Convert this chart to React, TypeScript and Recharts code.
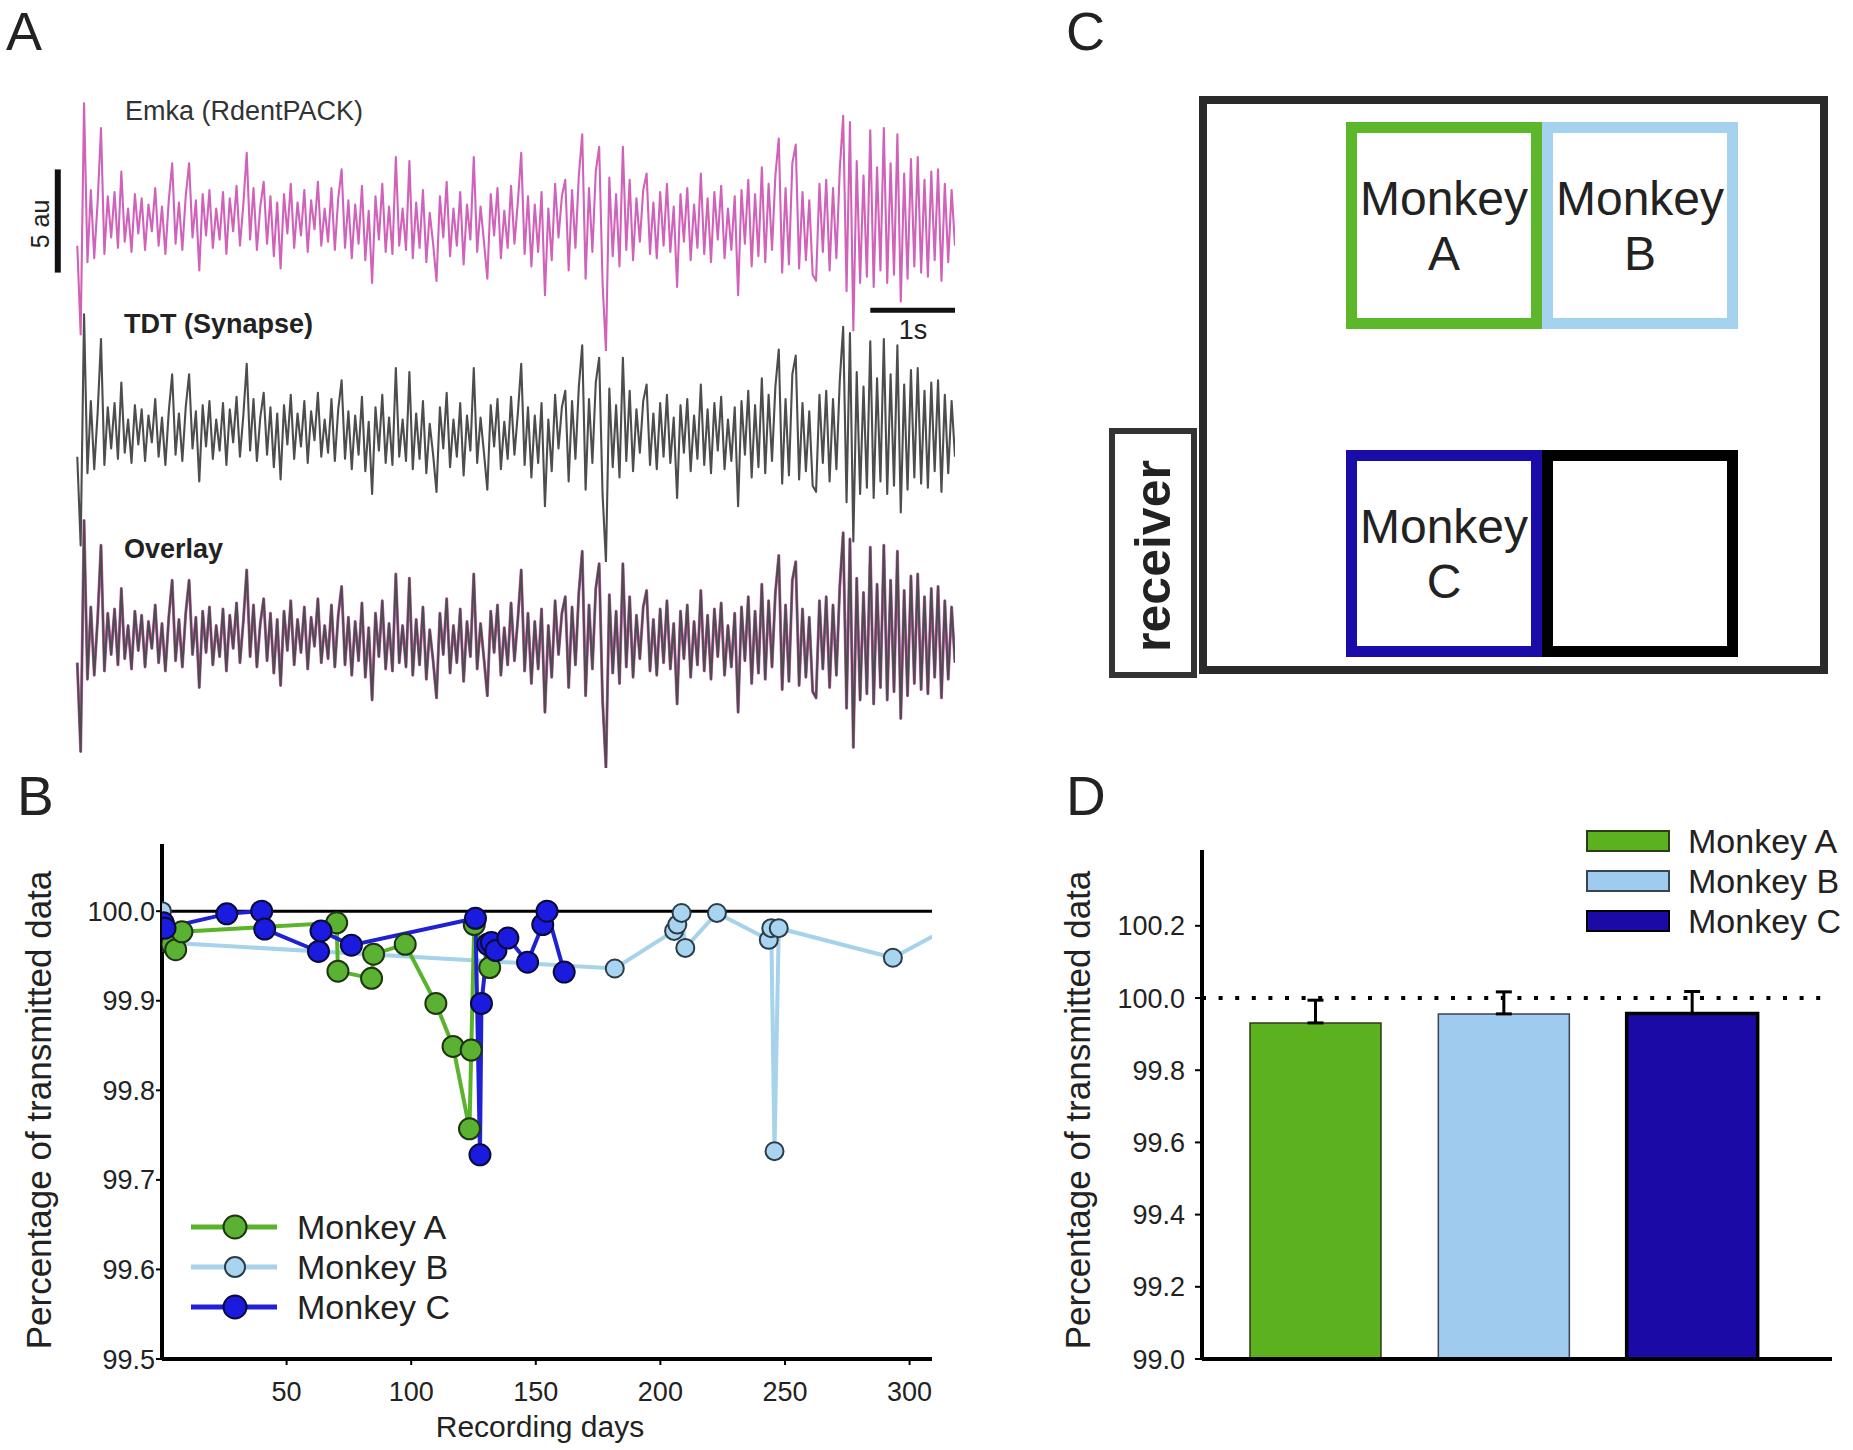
import React from 'react';
import {
  LineChart,
  Line,
  XAxis,
  YAxis,
  ReferenceLine,
  ReferenceArea,
  BarChart,
  Bar,
  Cell,
  ErrorBar,
  Legend,
} from 'recharts';

const FONT = '"Liberation Sans", Arial, Helvetica, sans-serif';
const INK = '#222';

// ---------------- Panel A: telemetry trace (arbitrary units) ----------------
const waveform = [
  -1.2, -5.5, 5.7, -2.0, 1.5, -1.8, 0.9, 4.5, -1.6, 1.2, -0.8, 1.4, -1.3, 2.4, -1.0, 0.6, -1.5, 1.3, -0.6, 1.1,
  -1.4, 0.8, -0.5, 1.6, -1.2, 0.7, -1.6, 1.0, 2.8, -1.1, 0.9, -1.4, 1.2, 2.8, -0.8, 1.0, -2.4, 1.3, -0.7, 1.5,
  -1.3, 0.6, -0.9, 1.4, -1.6, 1.1, -0.5, 1.7, -1.2, 0.8, 3.3, -0.9, 1.6, -1.4, 0.7, 1.9, -1.1, 1.2, -1.7, 0.9,
  -2.3, 1.3, -0.6, 1.8, -1.3, 0.9, -0.7, 1.5, -1.5, 1.0, -0.4, 1.9, -1.2, 0.6, -1.0, 1.6, -1.4, 1.1, 2.5, -1.3,
  1.0, -1.8, 0.8, -1.1, 1.7, -1.9, 0.5, -3.0, 1.2, -0.9, 1.8, -1.5, 0.7, -1.6, 3.1, -1.2, 0.6, -1.4, 2.9, -1.8,
  0.9, -1.3, 1.5, -2.0, 0.4, -1.1, -2.9, 1.2, -0.8, 1.9, -1.7, 0.6, -1.2, 1.4, -2.1, 0.8, -0.9, 3.1, -1.5, 0.7,
  -1.0, -2.8, 1.3, -0.7, 1.6, -1.8, 0.5, -1.3, 1.7, -1.1, 0.9, 3.3, -1.6, 1.2, -2.2, 0.8, -1.5, 1.4, -3.6, 0.6,
  -1.9, 1.8, -0.8, 1.2, 2.0, -2.4, 1.5, -1.3, 2.2, 4.2, -2.8, 1.6, -1.5, 2.4, 3.6, -3.0, -6.3, 2.1, -1.7, 1.3,
  -2.2, 3.6, -1.4, 2.0, -1.9, 1.1, -1.0, 1.5, 2.3, -1.6, 0.9, -1.8, 1.4, -1.2, 1.8, -1.5, 0.7, -3.2, 1.3, -1.0,
  1.6, -1.9, 0.8, -1.3, 2.3, -1.6, 1.1, -2.0, 1.4, -0.9, 1.7, -1.8, 0.6, -1.4, 1.2, -3.6, 1.5, -1.1, 2.0, -2.2,
  1.3, -1.7, 2.6, -2.0, 1.8, -1.4, 2.2, 4.0, -2.5, 1.6, -2.1, 2.8, 3.7, -2.3, 1.4, -1.9, 1.0, -2.6, -2.9, 1.8,
  -1.5, 2.0, -2.4, 1.6, -1.8, 2.5, 5.1, -3.4, 4.8, -5.3, 2.9, -3.0, 2.2, -2.7, 4.4, -3.2, 2.6, -2.4, 4.5, -3.0,
  2.8, -2.6, 4.2, -3.9, 2.3, -2.8, 3.0, -2.2, 3.1, -2.5, 2.0, -2.7, 2.4, -1.9, 2.5, -2.9, 1.8, -2.0, 1.5, -1.2,
];
const SAMPLE_SECONDS = 0.04;
const traceData = waveform.map((v, i) => ({ t: +(i * SAMPLE_SECONDS).toFixed(2), v }));
const TRACE_END = +((waveform.length - 1) * SAMPLE_SECONDS).toFixed(2);
const TRACE_DOMAIN_X: [number, number] = [-0.44, TRACE_END];
const TRACE_DOMAIN_Y: [number, number] = [-6.3, 6.3];
const SCALE_BAR_AU = 5;
const SCALE_BAR_SECONDS = 1;

// ---------------- Panel B: daily percentage of transmitted data ----------------
const monkeyNames = ['Monkey A', 'Monkey B', 'Monkey C'];
const monkeyADays = [4, 5.5, 8, 70.1, 70.6, 84.1, 84.9, 97.6, 109.9, 116.8, 123.4, 124.1, 125.3, 131.5];
const monkeyAPct = [99.963, 99.957, 99.977, 99.987, 99.933, 99.925, 99.952, 99.963, 99.897, 99.849, 99.757, 99.845, 99.985, 99.937];
const monkeyBDays = [0, 0.5, 1.5, 181.7, 205.5, 206.8, 208.5, 210, 222.7, 243.5, 244.5, 245.8, 247.5, 293.3, 322];
const monkeyBPct = [100.0, 99.97, 99.965, 99.936, 99.978, 99.985, 99.998, 99.959, 99.998, 99.968, 99.981, 99.732, 99.981, 99.948, 99.991];
const monkeyCDays = [0.5, 1.2, 26, 40, 41.2, 62.8, 63.8, 76, 125.8, 127.6, 128.2, 130.7, 132.2, 134, 138.8, 146.7, 152.8, 154.5, 161.4];
const monkeyCPct = [99.987, 99.981, 99.997, 100.0, 99.98, 99.955, 99.978, 99.962, 99.992, 99.728, 99.897, 99.963, 99.965, 99.956, 99.97, 99.943, 99.985, 100.0, 99.932];
const B_X_TICKS = [50, 100, 150, 200, 250, 300];
const B_Y_TICKS = [99.5, 99.6, 99.7, 99.8, 99.9, 100.0];

// ---------------- Panel D: mean percentage ----------------
const meanPct = [99.931, 99.956, 99.957];
const errPct = [0.063, 0.061, 0.061];
const D_Y_TICKS = [99.0, 99.2, 99.4, 99.6, 99.8, 100.0, 100.2];

// ---------------- styles ----------------
const B_LINE = ['#5ab42b', '#a6d3ea', '#2020d4'];
const B_DOT_FILL = ['#5bb232', '#a9d4ef', '#1b1be0'];
const B_DOT_STROKE = ['#1e3310', '#2b3b48', '#0b0b3a'];
const B_DOT_R = [10.5, 9, 10.5];
const D_FILL = ['#5cb21e', '#9fcbef', '#1c0aa6'];
const D_STROKE = ['#2a3d18', '#3a4450', '#000'];
const D_STROKE_W = [1.5, 1.5, 3.5];
const CAGE_COLORS = ['#5cb82a', '#a5d2ef', '#1a0ca8', '#000'];

const seriesB = [
  monkeyADays.map((d, i) => ({ day: d, pct: monkeyAPct[i] })),
  monkeyBDays.map((d, i) => ({ day: d, pct: monkeyBPct[i] })),
  monkeyCDays.map((d, i) => ({ day: d, pct: monkeyCPct[i] })),
];
const drawOrderB = [1, 0, 2];

const barData = monkeyNames.map((name, i) => ({ name, pct: meanPct[i], err: [0, errPct[i]] }));

type Layer = { stroke: string; width: number };

function TraceChart({ top, layers, scaleBars }: { top: number; layers: Layer[]; scaleBars?: boolean }) {
  return (
    <div style={{ position: 'absolute', left: 40, top, width: 915, height: 260 }}>
      <LineChart width={915} height={260} data={traceData} margin={{ top: 0, right: 0, bottom: 0, left: 0 }}>
        <XAxis dataKey="t" type="number" domain={TRACE_DOMAIN_X} hide />
        <YAxis type="number" domain={TRACE_DOMAIN_Y} hide />
        {layers.map((l, i) => (
          <Line
            key={i}
            type="linear"
            dataKey="v"
            stroke={l.stroke}
            strokeWidth={l.width}
            strokeLinejoin="round"
            dot={false}
            activeDot={false}
            isAnimationActive={false}
          />
        ))}
        {scaleBars && (
          <ReferenceLine
            segment={[
              { x: -0.23, y: -SCALE_BAR_AU / 2 },
              { x: -0.23, y: SCALE_BAR_AU / 2 },
            ]}
            stroke="#111"
            strokeWidth={6}
          />
        )}
        {scaleBars && (
          <ReferenceLine
            segment={[
              { x: TRACE_END - SCALE_BAR_SECONDS, y: -4.32 },
              { x: TRACE_END, y: -4.32 },
            ]}
            stroke="#111"
            strokeWidth={5}
          />
        )}
      </LineChart>
    </div>
  );
}

function BLegend() {
  return (
    <svg width={320} height={130} style={{ display: 'block', overflow: 'visible' }}>
      {monkeyNames.map((name, i) => {
        const cy = 22 + i * 40;
        return (
          <g key={name}>
            <line x1={6} x2={92} y1={cy} y2={cy} stroke={B_LINE[i]} strokeWidth={5} />
            <circle cx={50} cy={cy} r={B_DOT_R[i] + 1} fill={B_DOT_FILL[i]} stroke={B_DOT_STROKE[i]} strokeWidth={2} />
            <text x={112} y={cy + 12} fontSize={34} fill={INK} fontFamily={FONT}>
              {name}
            </text>
          </g>
        );
      })}
    </svg>
  );
}

function DLegend() {
  return (
    <svg width={262} height={130} style={{ display: 'block', overflow: 'visible' }}>
      {monkeyNames.map((name, i) => {
        const cy = 24 + i * 40;
        return (
          <g key={name}>
            <rect x={2} y={cy - 10} width={82} height={20} fill={D_FILL[i]} stroke={D_STROKE[i]} strokeWidth={2} />
            <text x={103} y={cy + 12} fontSize={34} fill={INK} fontFamily={FONT}>
              {name}
            </text>
          </g>
        );
      })}
    </svg>
  );
}

const tickStyle = { fill: INK, fontSize: 27, fontFamily: FONT };

function PanelB() {
  return (
    <div style={{ position: 'absolute', left: 0, top: 780 }}>
      <LineChart width={960} height={670} margin={{ top: 64, right: 28, bottom: 31, left: 0 }}>
        <XAxis
          type="number"
          dataKey="day"
          domain={[0, 309]}
          ticks={B_X_TICKS}
          interval={0}
          allowDataOverflow
          height={60}
          axisLine={{ stroke: '#000', strokeWidth: 4 }}
          tickLine={{ stroke: '#000', strokeWidth: 2 }}
          tickSize={6}
          tickMargin={17}
          tick={tickStyle}
        />
        <YAxis
          type="number"
          domain={[99.5, 100.075]}
          ticks={B_Y_TICKS}
          interval={0}
          allowDataOverflow
          width={162}
          axisLine={{ stroke: '#000', strokeWidth: 4 }}
          tickLine={{ stroke: '#000', strokeWidth: 2 }}
          tickSize={6}
          tickMargin={1}
          tick={tickStyle}
          tickFormatter={(v: number) => v.toFixed(1)}
        />
        <ReferenceLine y={100} stroke="#000" strokeWidth={3} />
        {drawOrderB.map((k) => (
          <Line
            key={monkeyNames[k]}
            name={monkeyNames[k]}
            data={seriesB[k]}
            dataKey="pct"
            type="linear"
            stroke={B_LINE[k]}
            strokeWidth={4}
            dot={{ r: B_DOT_R[k], fill: B_DOT_FILL[k], stroke: B_DOT_STROKE[k], strokeWidth: 2 }}
            activeDot={false}
            isAnimationActive={false}
          />
        ))}
        <Legend
          layout="vertical"
          align="center"
          verticalAlign="middle"
          content={() => <BLegend />}
          wrapperStyle={{ left: 185, top: 425, width: 320, height: 130 }}
        />
      </LineChart>
    </div>
  );
}

function PanelD() {
  return (
    <div style={{ position: 'absolute', left: 1040, top: 780 }}>
      <BarChart width={813} height={640} data={barData} margin={{ top: 70, right: 21, bottom: 31, left: 0 }}>
        <XAxis
          dataKey="name"
          height={30}
          tick={false}
          tickLine={false}
          axisLine={{ stroke: '#000', strokeWidth: 4 }}
          padding={{ left: 19, right: 46 }}
        />
        <YAxis
          type="number"
          domain={[99, 100.41]}
          ticks={D_Y_TICKS}
          interval={0}
          allowDataOverflow
          width={162}
          axisLine={{ stroke: '#000', strokeWidth: 4 }}
          tickLine={{ stroke: '#000', strokeWidth: 2 }}
          tickSize={7}
          tickMargin={10}
          tick={tickStyle}
          tickFormatter={(v: number) => v.toFixed(1)}
        />
        <ReferenceLine y={100} stroke="#000" strokeWidth={4} strokeDasharray="4 12.6" />
        <Bar dataKey="pct" barSize={131} isAnimationActive={false}>
          {barData.map((d, i) => (
            <Cell key={d.name} fill={D_FILL[i]} stroke={D_STROKE[i]} strokeWidth={D_STROKE_W[i]} />
          ))}
          <ErrorBar dataKey="err" direction="y" width={8} strokeWidth={3} stroke="#000" isAnimationActive={false} />
        </Bar>
        <Legend
          layout="vertical"
          align="center"
          verticalAlign="middle"
          content={() => <DLegend />}
          wrapperStyle={{ left: 545, top: 37, width: 262, height: 130 }}
        />
      </BarChart>
    </div>
  );
}

// cage layout in panel-local pixel units (panel origin at 1040,60)
const cageRooms = [
  { name: 'Monkey A', lines: ['Monkey', 'A'], x1: 311.5, x2: 496.5, y1: 67.5, y2: 263.5 },
  { name: 'Monkey B', lines: ['Monkey', 'B'], x1: 507.5, x2: 692.5, y1: 67.5, y2: 263.5 },
  { name: 'Monkey C', lines: ['Monkey', 'C'], x1: 311.5, x2: 496.5, y1: 395.5, y2: 591.5 },
  { name: 'empty', lines: [] as string[], x1: 507.5, x2: 692.5, y1: 395.5, y2: 591.5 },
];

function roomLabel(lines: string[]) {
  return (p: any) => {
    const vb = (p && p.viewBox) || p;
    const cx = vb.x + vb.width / 2;
    return (
      <g>
        {lines.map((s, i) => (
          <text key={i} x={cx} y={vb.y + 87.5 + i * 55} textAnchor="middle" fontSize={48} fill={INK} fontFamily={FONT}>
            {s}
          </text>
        ))}
      </g>
    );
  };
}

function receiverLabel(p: any) {
  const vb = (p && p.viewBox) || p;
  const cx = vb.x + vb.width / 2 + 17;
  const cy = vb.y + vb.height / 2 + 3;
  return (
    <text
      x={cx}
      y={cy}
      transform={`rotate(-90 ${cx} ${cy})`}
      textAnchor="middle"
      fontSize={50}
      fontWeight="bold"
      fill={INK}
      fontFamily={FONT}
    >
      receiver
    </text>
  );
}

function PanelC() {
  return (
    <div style={{ position: 'absolute', left: 1040, top: 60 }}>
      <LineChart width={813} height={660} data={cageRooms} margin={{ top: 0, right: 0, bottom: 0, left: 0 }}>
        <XAxis type="number" dataKey="x1" domain={[0, 813]} hide />
        <YAxis type="number" dataKey="y1" domain={[0, 660]} reversed hide />
        <Line dataKey="y1" stroke="none" dot={false} activeDot={false} isAnimationActive={false} />
        <ReferenceArea x1={163} x2={784} y1={40} y2={610} fill="none" stroke="#2a2a2a" strokeWidth={8} ifOverflow="visible" />
        <ReferenceArea
          x1={72}
          x2={154}
          y1={371}
          y2={615}
          fill="none"
          stroke="#333"
          strokeWidth={6}
          ifOverflow="visible"
          label={receiverLabel}
        />
        {cageRooms.map((r, i) => (
          <ReferenceArea
            key={r.name}
            x1={r.x1}
            x2={r.x2}
            y1={r.y1}
            y2={r.y2}
            fill="none"
            stroke={CAGE_COLORS[i]}
            strokeWidth={11}
            ifOverflow="visible"
            label={roomLabel(r.lines)}
          />
        ))}
      </LineChart>
    </div>
  );
}

export default function App() {
  return (
    <div
      style={{
        position: 'absolute',
        left: 0,
        top: 0,
        width: 1853,
        height: 1450,
        background: '#fff',
        overflow: 'hidden',
        fontFamily: FONT,
      }}
    >
      <TraceChart top={91} layers={[{ stroke: '#d062b9', width: 2.1 }]} scaleBars />
      <TraceChart top={302} layers={[{ stroke: '#4d4d4d', width: 2.1 }]} />
      <TraceChart
        top={508}
        layers={[
          { stroke: '#d062b9', width: 3 },
          { stroke: '#4d4d4d', width: 2 },
        ]}
      />
      <PanelB />
      <PanelC />
      <PanelD />
      <svg
        width={1853}
        height={1450}
        style={{ position: 'absolute', left: 0, top: 0, pointerEvents: 'none' }}
        fontFamily={FONT}
      >
        <text x={6} y={50} fontSize={54} fill={INK}>A</text>
        <text x={17} y={815} fontSize={55} fill={INK}>B</text>
        <text x={1066} y={50} fontSize={54} fill={INK}>C</text>
        <text x={1066} y={815} fontSize={55} fill={INK}>D</text>
        <text x={125} y={120} fontSize={27} fill="#333">Emka (RdentPACK)</text>
        <text x={124} y={333} fontSize={27} fontWeight="bold" fill={INK}>TDT (Synapse)</text>
        <text x={124} y={558} fontSize={27} fontWeight="bold" fill={INK}>Overlay</text>
        <text x={913} y={339} fontSize={27} textAnchor="middle" fill={INK}>1s</text>
        <text x={49} y={224} fontSize={25} textAnchor="middle" fill={INK} transform="rotate(-90 49 224)">5 au</text>
        <text x={540} y={1437} fontSize={30} textAnchor="middle" fill={INK}>Recording days</text>
        <text x={51} y={1110} fontSize={35} textAnchor="middle" fill={INK} transform="rotate(-90 51 1110)">
          Percentage of transmitted data
        </text>
        <text x={1090} y={1110} fontSize={35} textAnchor="middle" fill={INK} transform="rotate(-90 1090 1110)">
          Percentage of transmitted data
        </text>
      </svg>
    </div>
  );
}
